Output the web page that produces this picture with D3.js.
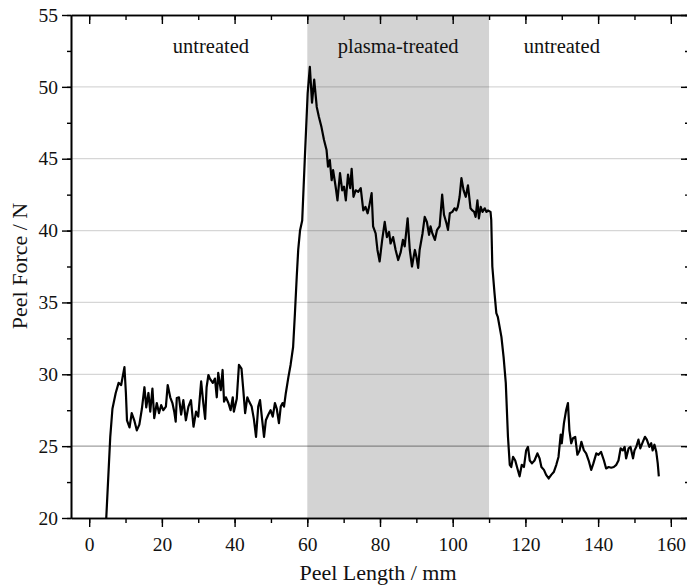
<!DOCTYPE html>
<html>
<head>
<meta charset="utf-8">
<script src="https://cdn.jsdelivr.net/npm/d3@7"></script>
<style>
    body { margin: 0; background: white; }
    svg text { font-family: 'Liberation Serif', 'DejaVu Serif', serif; fill: #111; }
</style>
</head>
<body>
<svg id="chart" width="687" height="587"></svg>
<script>
const peelLength = [
    4.7, 5.8, 6.4, 7.3, 8.1, 8.8, 9.7, 10.1, 10.4, 11.1, 11.7, 12.4, 13.1, 13.8, 14.5, 15.2, 15.7, 16.3, 16.8, 17.4,
    17.9, 18.6, 19.2, 19.8, 20.4, 21.1, 21.6, 22.3, 22.9, 23.4, 23.8, 24.1, 24.7, 25.3, 25.9, 26.6, 27.3, 28.0, 28.7, 29.4,
    30.0, 30.8, 31.4, 31.9, 32.3, 32.8, 33.2, 34.0, 34.6, 35.1, 35.5, 36.2, 36.7, 37.1, 37.6, 38.3, 38.9, 39.5, 39.8, 40.6,
    41.2, 41.9, 42.4, 42.9, 43.5, 44.0, 44.7, 45.3, 45.9, 46.5, 47.0, 47.6, 48.1, 48.6, 49.3, 49.9, 50.5, 51.1, 51.6, 52.2,
    52.7, 53.2, 53.6, 54.1, 54.8, 55.4, 56.1, 56.6, 57.1, 57.5, 58.0, 58.6, 59.3, 60.1, 60.7, 61.3, 61.9, 62.6, 63.2, 63.9,
    64.6, 65.3, 65.7, 66.2, 66.7, 67.1, 67.8, 68.3, 69.0, 69.6, 70.1, 70.6, 71.2, 71.8, 72.2, 72.7, 73.3, 74.0, 74.7, 75.4,
    76.0, 76.6, 77.0, 77.7, 78.1, 78.8, 79.3, 79.9, 80.6, 81.3, 81.9, 82.5, 82.9, 83.6, 84.3, 85.0, 85.7, 86.3, 86.8, 87.6,
    88.2, 88.8, 89.1, 89.6, 90.0, 90.5, 90.9, 91.7, 92.3, 92.9, 93.5, 93.9, 94.4, 95.1, 95.7, 96.4, 97.1, 97.6, 98.3, 98.7,
    99.2, 99.9, 100.5, 101.0, 101.4, 101.9, 102.4, 103.0, 103.6, 104.2, 104.9, 105.4, 105.9, 106.3, 106.8, 107.2, 107.7, 108.2, 108.8, 109.3,
    109.7, 110.4, 110.6, 110.9, 111.5, 112.0, 112.4, 113.4, 114.0, 114.6, 115.2, 115.7, 116.1, 116.6, 117.2, 117.8, 118.4, 119.0, 119.6, 120.2,
    120.7, 121.2, 121.8, 122.5, 123.3, 123.9, 124.4, 125.1, 125.7, 126.4, 127.1, 127.8, 128.5, 129.1, 129.7, 130.0, 130.6, 131.2, 131.7, 132.1,
    132.6, 133.1, 133.7, 134.3, 134.9, 135.4, 136.1, 136.7, 137.4, 138.1, 138.7, 139.5, 140.1, 140.8, 141.6, 142.2, 142.9, 143.6, 144.3, 145.0,
    145.6, 146.2, 146.8, 147.3, 147.7, 148.4, 148.9, 149.6, 150.0, 150.5, 151.1, 151.6, 152.3, 152.9, 153.4, 154.1, 154.6, 155.0, 155.5, 156.0,
    156.4, 156.7
];

const peelForce = [
    20.0, 25.65, 27.6, 28.7, 29.4, 29.25, 30.5, 28.7, 26.8, 26.3, 27.3, 26.8, 26.1, 26.5, 27.6, 29.1, 27.7, 28.7, 27.4, 29.0,
    26.95, 28.0, 27.3, 27.85, 27.5, 27.75, 29.25, 28.4, 28.0, 27.4, 26.7, 28.35, 28.4, 27.2, 28.2, 26.8, 27.75, 28.2, 26.35, 27.4,
    27.05, 29.5, 28.0, 26.9, 29.1, 29.95, 29.7, 29.4, 29.7, 28.4, 30.1, 28.9, 30.3, 28.1, 28.4, 28.0, 27.5, 28.4, 27.4, 28.3,
    30.65, 30.4, 28.9, 27.3, 28.4, 28.1, 27.75, 26.9, 25.65, 27.75, 28.2, 26.8, 25.65, 26.8, 27.2, 27.5, 27.05, 28.0, 27.6, 26.6,
    27.75, 28.0, 27.75, 28.7, 29.8, 30.65, 31.9, 34.25, 36.8, 38.65, 40.0, 40.7, 44.9, 49.55, 51.4, 48.9, 50.5, 48.6, 47.9, 47.2,
    46.3, 45.6, 44.45, 44.9, 43.5, 44.2, 43.05, 42.1, 44.0, 42.8, 43.05, 42.1, 43.9, 42.95, 44.3, 42.35, 42.8, 42.7, 42.95, 41.4,
    41.65, 41.2, 41.65, 42.6, 40.3, 39.8, 38.65, 37.85, 39.35, 40.6, 39.55, 39.9, 39.1, 39.55, 38.65, 37.95, 38.5, 39.35, 38.9, 40.85,
    38.65, 37.5, 37.95, 38.65, 38.2, 37.4, 38.65, 39.8, 40.95, 40.6, 39.7, 40.3, 39.8, 39.35, 40.05, 40.3, 42.5, 41.1, 40.5, 40.05,
    41.2, 41.3, 41.55, 41.4, 41.65, 42.35, 43.65, 42.8, 42.35, 43.15, 41.55, 41.4, 41.3, 40.95, 42.1, 40.85, 41.65, 41.3, 41.55, 41.3,
    41.4, 41.3, 40.75, 37.5, 35.65, 34.25, 34.0, 32.6, 31.2, 29.4, 25.65, 23.7, 23.55, 24.25, 24.0, 23.45, 22.9, 23.7, 23.55, 24.7,
    24.95, 24.0, 23.8, 24.0, 24.5, 24.15, 23.55, 23.35, 23.0, 22.75, 23.0, 23.2, 23.7, 24.25, 25.8, 25.2, 26.6, 27.5, 28.0, 26.1,
    25.2, 25.55, 25.65, 24.4, 24.7, 25.3, 24.7, 24.5, 24.0, 23.35, 23.8, 24.5, 24.4, 24.6, 24.0, 23.45, 23.55, 23.5, 23.55, 23.7,
    24.0, 24.85, 24.7, 24.95, 24.15, 24.85, 24.95, 24.15, 24.7, 24.95, 25.45, 24.85, 25.3, 25.65, 25.45, 24.95, 25.2, 24.7, 25.1, 24.6,
    23.8, 22.9
];

const xTicks = [0, 20, 40, 60, 80, 100, 120, 140, 160];
const yTicks = [20, 25, 30, 35, 40, 45, 50, 55];
const gridValues = [25, 30, 35, 40, 45, 50];
const treatedRange = [60, 110];
const regionLabels = [
    { text: 'untreated', at: 33.5 },
    { text: 'plasma-treated', at: 85 },
    { text: 'untreated', at: 130 }
];

const d3svg = d3.select('#chart'),
    plot = { left: 71, top: 15, right: 689, bottom: 518 };

const x = d3.scaleLinear().domain([-5, 165]).range([plot.left, plot.right]),
    y = d3.scaleLinear().domain([20, 55]).range([plot.bottom, plot.top]);

const data = peelLength.map((v, i) => ({ length: v, force: peelForce[i] }));

// shaded plasma-treated band
d3svg.append('rect')
    .attr('x', x(treatedRange[0]))
    .attr('y', plot.top)
    .attr('width', x(treatedRange[1]) - x(treatedRange[0]))
    .attr('height', plot.bottom - plot.top)
    .attr('fill', '#d3d3d3');

// grid lines
d3svg.append('g')
    .selectAll('line')
    .data(gridValues)
    .enter()
    .append('line')
    .attr('x1', plot.left)
    .attr('x2', plot.right)
    .attr('y1', d => y(d))
    .attr('y2', d => y(d))
    .attr('stroke', d => d === 25 ? 'rgba(0,0,0,0.38)' : 'rgba(0,0,0,0.16)')
    .attr('stroke-width', 1.2);

// region labels
d3svg.append('g')
    .selectAll('text')
    .data(regionLabels)
    .enter()
    .append('text')
    .attr('x', d => x(d.at))
    .attr('y', 53)
    .attr('text-anchor', 'middle')
    .attr('font-size', 20.5)
    .text(d => d.text);

// the curve
d3svg.append('path')
    .datum(data)
    .attr('fill', 'none')
    .attr('stroke', '#000')
    .attr('stroke-width', 2.2)
    .attr('stroke-linejoin', 'round')
    .attr('d', d3.line().x(d => x(d.length)).y(d => y(d.force)));

function styleAxis(g) {
    g.select('.domain').attr('stroke', '#000').attr('stroke-width', 1.6);
    g.selectAll('.tick line').attr('stroke', '#000').attr('stroke-width', 1.4);
    g.selectAll('.tick text')
        .attr('font-family', "'Liberation Serif', serif")
        .attr('font-size', 19.5)
        .attr('fill', '#111');
}

const xMinor = d3.range(0, 161, 10),
    yMinor = d3.range(20, 55.1, 2.5);

// minor ticks first, majors drawn over them
const axes = [
    { axis: d3.axisBottom(x).tickValues(xMinor).tickSize(5).tickFormat(''), at: [0, plot.bottom] },
    { axis: d3.axisBottom(x).tickValues(xTicks).tickSize(9).tickPadding(10), at: [0, plot.bottom] },
    { axis: d3.axisTop(x).tickValues(xMinor).tickSize(-5).tickFormat(''), at: [0, plot.top] },
    { axis: d3.axisTop(x).tickValues(xTicks).tickSize(-9).tickFormat(''), at: [0, plot.top] },
    { axis: d3.axisLeft(y).tickValues(yMinor).tickSize(4).tickFormat(''), at: [plot.left, 0] },
    { axis: d3.axisLeft(y).tickValues(yTicks).tickSize(9).tickPadding(4), at: [plot.left, 0] },
    { axis: d3.axisRight(y).tickValues(yMinor).tickSize(-4).tickFormat(''), at: [plot.right, 0] },
    { axis: d3.axisRight(y).tickValues(yTicks).tickSize(-8).tickFormat(''), at: [plot.right, 0] }
];

axes.forEach(a => {
    const g = d3svg.append('g')
        .attr('transform', 'translate(' + a.at[0] + ',' + a.at[1] + ')')
        .call(a.axis.tickSizeOuter(0));
    styleAxis(g);
});

// axis titles
d3svg.append('text')
    .attr('x', 378)
    .attr('y', 580)
    .attr('text-anchor', 'middle')
    .attr('font-size', 22)
    .text('Peel Length / mm');

d3svg.append('text')
    .attr('transform', 'translate(27,266) rotate(-90)')
    .attr('text-anchor', 'middle')
    .attr('font-size', 22)
    .text('Peel Force / N');
</script>
</body>
</html>
